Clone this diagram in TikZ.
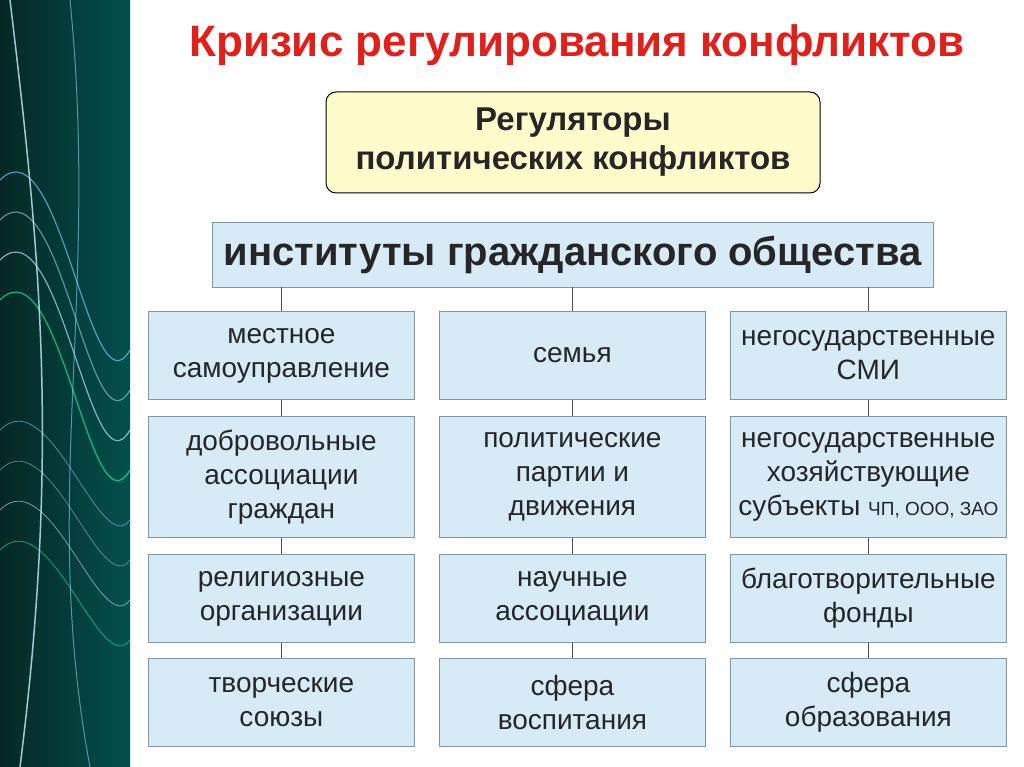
\documentclass[tikz,border=0pt]{standalone}
\usepackage{fontspec}
\setmainfont{Liberation Sans}
\definecolor{boxfill}{HTML}{D7EBF7}
\definecolor{boxline}{HTML}{7C97A8}
\definecolor{titlered}{HTML}{E0201B}
\definecolor{band}{HTML}{06302C}
\begin{document}
\begin{tikzpicture}[x=1pt,y=-1pt,
  cell/.style={draw=boxline,fill=boxfill,line width=0.8pt,minimum width=266pt,minimum height=88pt,align=center,font=\fontsize{28}{34}\selectfont,anchor=north west,inner sep=2pt,text=black!85},
  link/.style={draw=black!70,line width=0.7pt}]
\useasboundingbox (0,0) rectangle (1024,767);
\fill[white] (0,0) rectangle (1024,767);
% left decorative band
\shade[left color=band!80!black,right color=band!60!teal] (0,0) rectangle (130,767);
\foreach \o/\c in {0/cyan!60,40/teal!50,80/cyan!30,120/green!40!cyan}{
  \draw[\c,line width=1.2pt,opacity=0.7] (0,{180+\o}) .. controls (60,{120+\o}) and (90,{420+\o}) .. (130,{350+\o});
  \draw[\c,line width=0.8pt,opacity=0.6] (0,{430+\o}) .. controls (50,{380+\o}) and (100,{560+\o}) .. (130,{520+\o});
}
\draw[white!80!cyan,line width=1.5pt,opacity=0.8] (10,0) .. controls (40,250) and (60,450) .. (20,767);
\draw[cyan!50,line width=1pt,opacity=0.6] (70,0) .. controls (100,300) and (40,500) .. (90,767);
% title
\node[font=\fontsize{44}{50}\selectfont\bfseries,text=titlered] (title) at (577,45) {Кризис регулирования конфликтов};
% yellow box
\node[draw=black,fill=yellow!20,rounded corners=10pt,line width=1pt,minimum width=494pt,minimum height=101pt,align=center,font=\fontsize{33}{39}\selectfont\bfseries,text=black!85] (reg) at (573,142.5) {Регуляторы\\политических конфликтов};
% institutes
\node[draw=boxline,fill=boxfill,line width=0.8pt,minimum width=721pt,minimum height=65pt,font=\fontsize{40}{44}\selectfont\bfseries,text=black!85] (inst) at (572.5,254.5) {институты гражданского общества};
% cells
\node[cell] (a1) at (148,311) {местное\\самоуправление};
\node[cell] (b1) at (439,311) {семья};
\node[cell,minimum width=276pt] (c1) at (730,311) {негосударственные\\СМИ};
\node[cell,minimum height=121pt] (a2) at (148,416) {добровольные\\ассоциации\\граждан};
\node[cell,minimum height=121pt] (b2) at (439,416) {политические\\партии и\\движения};
\node[cell,minimum height=121pt,minimum width=276pt] (c2) at (730,416) {негосударственные\\хозяйствующие\\субъекты {\fontsize{19}{24}\selectfont ЧП, ООО, ЗАО}};
\node[cell] (a3) at (148,554) {религиозные\\организации};
\node[cell] (b3) at (439,554) {научные\\ассоциации};
\node[cell,minimum width=276pt] (c3) at (730,554) {благотворительные\\фонды};
\node[cell] (a4) at (148,658) {творческие\\союзы};
\node[cell] (b4) at (439,658) {сфера\\воспитания};
\node[cell,minimum width=276pt] (c4) at (730,658) {сфера\\образования};
% connectors
\foreach \k in {a,b,c}{
  \draw[link] (inst.south -| \k1.north) -- (\k1.north);
  \draw[link] (\k1.south) -- (\k2.north);
  \draw[link] (\k2.south) -- (\k3.north);
  \draw[link] (\k3.south) -- (\k4.north);
}
\end{tikzpicture}
\end{document}
